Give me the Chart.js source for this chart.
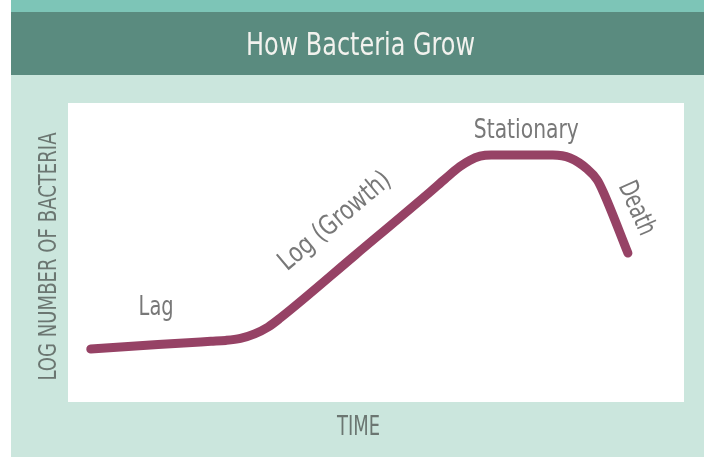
<!DOCTYPE html>
<html>
<head>
<meta charset="utf-8">
<script src="https://cdn.jsdelivr.net/npm/chart.js@4.4.1/dist/chart.umd.min.js"></script>
<style>
  html, body { margin: 0; padding: 0; background: #ffffff; }
</style>
</head>
<body>
<canvas id="growthChart" width="704" height="457"></canvas>
<script>
// Growth curve (time and log count on a 0-10 scale)
const timeValues = [0.37, 1.46, 2.32, 2.56, 2.80, 3.03, 3.25, 3.44, 4.66, 5.88, 6.12, 6.36, 6.52, 6.69, 6.87, 7.37, 7.87, 8.15, 8.43, 8.59, 8.69, 9.09];
const logCounts  = [1.77, 1.92, 2.03, 2.06, 2.13, 2.28, 2.51, 2.80, 4.91, 7.03, 7.46, 7.87, 8.08, 8.22, 8.26, 8.26, 8.26, 8.16, 7.79, 7.43, 7.02, 4.98];

// Phase labels and where they sit along the curve
const phaseNames = ['Lag', 'Log (Growth)', 'Stationary', 'Death'];
const phaseTime  = [1.43, 4.34, 7.44, 9.22];
const phaseLog   = [3.14, 6.03, 9.06, 6.47];
const phaseAngle = [0, -40, 0, 66];

const titleText = 'How Bacteria Grow';
const yTitle = 'LOG NUMBER OF BACTERIA';
const xTitle = 'TIME';

const fontFamily = "'DejaVu Sans Condensed', 'DejaVu Sans', sans-serif";

// the original uses a narrow face, so squeeze the text to its width
function squeezedText(ctx, text, x, y, angle, size, maxWidth, color, baseline) {
    ctx.save();
    ctx.translate(x, y);
    ctx.rotate(angle * Math.PI / 180);
    ctx.font = size + 'px ' + fontFamily;
    ctx.fillStyle = color;
    ctx.textAlign = 'center';
    ctx.textBaseline = baseline;
    ctx.fillText(text, 0, 0, maxWidth);
    ctx.restore();
}

// header bands + white plotting panel
const backdrop = {
    id: 'backdrop',
    beforeDraw(chart) {
        const ctx = chart.ctx;
        const a = chart.chartArea;
        ctx.save();
        ctx.fillStyle = '#ffffff';
        ctx.fillRect(0, 0, chart.width, chart.height);
        ctx.fillStyle = '#cbe6dd';
        ctx.fillRect(11, 0, chart.width - 11, chart.height);
        ctx.fillStyle = '#7dc5b7';
        ctx.fillRect(11, 0, chart.width - 11, 12);
        ctx.fillStyle = '#5a8b7f';
        ctx.fillRect(11, 12, chart.width - 11, 63);
        ctx.fillStyle = '#ffffff';
        ctx.fillRect(a.left, a.top, a.right - a.left, a.bottom - a.top);
        ctx.restore();
    }
};

// title, axis names and phase names
const chartText = {
    id: 'chartText',
    afterDraw(chart) {
        const ctx = chart.ctx;
        const a = chart.chartArea;
        const xs = chart.scales.x, ys = chart.scales.y;
        squeezedText(ctx, titleText, 360.5, 55, 0, 32, 229, '#f2f2ee', 'alphabetic');
        squeezedText(ctx, xTitle, 358.5, 435, 0, 26, 43, '#6b7671', 'alphabetic');
        squeezedText(ctx, yTitle, 56, (a.top + a.bottom) / 2 + 4, -90, 25, 248, '#6b7671', 'alphabetic');
        const widths = [35, 138, 105, 56];
        phaseNames.forEach((name, i) => {
            squeezedText(ctx, name, xs.getPixelForValue(phaseTime[i]), ys.getPixelForValue(phaseLog[i]),
                phaseAngle[i], 27, widths[i], '#787878', 'middle');
        });
    }
};

new Chart(document.getElementById('growthChart').getContext('2d'), {
    type: 'line',
    data: {
        datasets: [{
            data: timeValues.map((t, i) => ({ x: t, y: logCounts[i] })),
            borderColor: '#964265',
            borderWidth: 9,
            borderCapStyle: 'round',
            borderJoinStyle: 'round',
            pointRadius: 0,
            cubicInterpolationMode: 'monotone',
            fill: false
        }]
    },
    options: {
        responsive: false,
        animation: false,
        layout: { padding: { left: 68, top: 103, right: 20, bottom: 55 } },
        plugins: {
            legend: { display: false },
            tooltip: { enabled: false },
            title: { display: false }
        },
        scales: {
            x: { type: 'linear', min: 0, max: 10, display: false },
            y: { type: 'linear', min: 0, max: 10, display: false }
        }
    },
    plugins: [backdrop, chartText]
});
</script>
</body>
</html>
